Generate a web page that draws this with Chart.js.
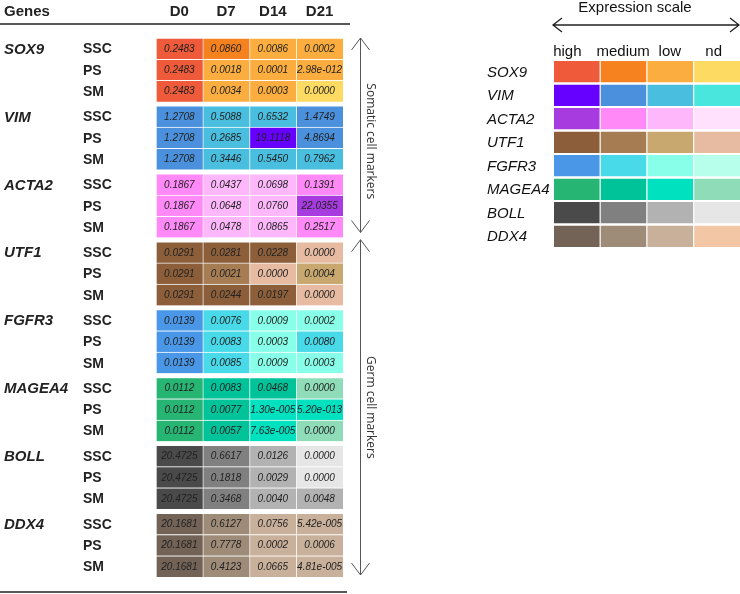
<!DOCTYPE html>
<html>
<head>
<meta charset="utf-8">
<script src="https://cdn.jsdelivr.net/npm/chart.js@4.4.1/dist/chart.umd.min.js"></script>
<style>
  body { margin: 0; background: #fff; }
  #wrap { position: relative; width: 740px; height: 594px; overflow: hidden; }
  #wrap canvas { position: absolute; left: 0; top: 0; }
</style>
</head>
<body>
<div id="wrap">
  <canvas id="tableChart" width="740" height="594"></canvas>
  <canvas id="scaleChart" width="740" height="594"></canvas>
</div>
<script>
// table labels
const genes = ['SOX9', 'VIM', 'ACTA2', 'UTF1', 'FGFR3', 'MAGEA4', 'BOLL', 'DDX4'];
const samples = ['SSC', 'PS', 'SM'];
const days = ['D0', 'D7', 'D14', 'D21'];
const scaleLabels = ['high', 'medium', 'low', 'nd'];

// values shown in the cells, one entry per gene x sample (SSC, PS, SM)
const valuesD0 = ['0.2483', '0.2483', '0.2483', '1.2708', '1.2708', '1.2708', '0.1867', '0.1867', '0.1867',
  '0.0291', '0.0291', '0.0291', '0.0139', '0.0139', '0.0139', '0.0112', '0.0112', '0.0112',
  '20.4725', '20.4725', '20.4725', '20.1681', '20.1681', '20.1681'];
const valuesD7 = ['0.0860', '0.0018', '0.0034', '0.5088', '0.2685', '0.3446', '0.0437', '0.0648', '0.0478',
  '0.0281', '0.0021', '0.0244', '0.0076', '0.0083', '0.0085', '0.0083', '0.0077', '0.0057',
  '0.6617', '0.1818', '0.3468', '0.6127', '0.7778', '0.4123'];
const valuesD14 = ['0.0086', '0.0001', '0.0003', '0.6532', '19.1118', '0.5450', '0.0698', '0.0760', '0.0865',
  '0.0228', '0.0000', '0.0197', '0.0009', '0.0003', '0.0009', '0.0468', '1.30e-005', '7.63e-005',
  '0.0126', '0.0029', '0.0040', '0.0756', '0.0002', '0.0665'];
const valuesD21 = ['0.0002', '2.98e-012', '0.0000', '1.4749', '4.8694', '0.7962', '0.1391', '22.0355', '0.2517',
  '0.0000', '0.0004', '0.0000', '0.0002', '0.0080', '0.0003', '0.0000', '5.20e-013', '0.0000',
  '0.0000', '0.0000', '0.0048', '5.42e-005', '0.0006', '4.81e-005'];

// expression level of each cell: 0 high, 1 medium, 2 low, 3 nd
const levelsD0 = [0, 0, 0, 1, 1, 1, 1, 1, 1, 0, 0, 0, 0, 0, 0, 0, 0, 0, 0, 0, 0, 0, 0, 0];
const levelsD7 = [1, 2, 2, 2, 2, 2, 2, 2, 2, 0, 1, 0, 1, 1, 1, 1, 1, 1, 1, 1, 1, 1, 1, 1];
const levelsD14 = [2, 2, 2, 2, 0, 2, 2, 2, 2, 0, 3, 0, 2, 2, 2, 1, 2, 2, 2, 2, 2, 2, 2, 2];
const levelsD21 = [2, 2, 3, 1, 1, 2, 1, 0, 1, 3, 2, 3, 2, 1, 2, 3, 2, 3, 3, 3, 2, 2, 2, 2];

// colour per gene: high, medium, low, nd
const palettes = [
  ['#EE5A3A', '#F5821E', '#FBAE3F', '#FDDB63'],
  ['#6600FF', '#4A90DC', '#4ABEDF', '#48E6DC'],
  ['#A73BDF', '#FF89F7', '#FFB7FB', '#FFE1FD'],
  ['#8C5F3A', '#A67C53', '#C8A86E', '#E6BBA1'],
  ['#4A97E8', '#48DAE8', '#88FFE8', '#B7FFEA'],
  ['#26B573', '#00C39A', '#00E1C0', '#8EDDB8'],
  ['#4A4A4A', '#808080', '#B2B2B2', '#E6E6E6'],
  ['#736357', '#9E8B78', '#C8B09A', '#F3C6A6']
];

const values = [valuesD0, valuesD7, valuesD14, valuesD21];
const levels = [levelsD0, levelsD7, levelsD14, levelsD21];

const GAP = 0.2; // space between gene blocks, in rows
const rowPos = i => Math.floor(i / 3) * (3 + GAP) + (i % 3) + 0.5;
const totalRows = genes.length * 3 + (genes.length - 1) * GAP;

const FONT = '"Liberation Sans", Arial, sans-serif';

function vArrow(ctx, x, y1, y2) {
  ctx.beginPath();
  ctx.moveTo(x, y1);
  ctx.lineTo(x, y2);
  ctx.stroke();
  ctx.beginPath();
  ctx.moveTo(x - 9, y1 + 12); ctx.lineTo(x, y1); ctx.lineTo(x + 9, y1 + 12);
  ctx.moveTo(x - 9, y2 - 12); ctx.lineTo(x, y2); ctx.lineTo(x + 9, y2 - 12);
  ctx.stroke();
}

const tableText = {
  id: 'tableText',
  afterDraw(chart) {
    const ctx = chart.ctx;
    const xs = chart.scales.x;
    const ys = chart.scales.y;
    ctx.save();

    // cell values
    ctx.fillStyle = '#222';
    ctx.font = 'italic 10px ' + FONT;
    ctx.textAlign = 'center';
    ctx.textBaseline = 'middle';
    chart.data.datasets.forEach((ds, c) => {
      chart.getDatasetMeta(c).data.forEach((bar, i) => {
        const p = bar.getProps(['x', 'y', 'base'], true);
        ctx.fillText(values[c][i], (p.x + p.base) / 2, p.y + 0.5);
      });
    });

    // header
    ctx.font = 'bold 15px ' + FONT;
    ctx.textAlign = 'left';
    ctx.fillText('Genes', 4, 12);
    ctx.textAlign = 'center';
    days.forEach((d, c) => ctx.fillText(d, xs.getPixelForValue(c + 0.5), 12));

    // gene and sample labels
    genes.forEach((g, gi) => {
      ctx.textAlign = 'left';
      ctx.font = 'bold italic 15px ' + FONT;
      ctx.fillText(g, 4, ys.getPixelForValue(rowPos(gi * 3)) + 1);
      ctx.font = 'bold 14px ' + FONT;
      samples.forEach((s, si) => {
        ctx.fillText(s, 83, ys.getPixelForValue(rowPos(gi * 3 + si)) + 1);
      });
    });

    // rules
    ctx.strokeStyle = '#222';
    ctx.lineWidth = 1.5;
    ctx.beginPath();
    ctx.moveTo(0, 24); ctx.lineTo(350, 24);
    ctx.moveTo(0, 592); ctx.lineTo(347, 592);
    ctx.stroke();

    // marker groups
    ctx.strokeStyle = '#555';
    ctx.lineWidth = 1;
    const ax = 360.5;
    const s1 = ys.getPixelForValue(0);
    const s2 = ys.getPixelForValue(3 * (3 + GAP) - GAP) - 5;
    const g1 = ys.getPixelForValue(3 * (3 + GAP)) - 2;
    const g2 = ys.getPixelForValue(totalRows) - 2;
    vArrow(ctx, ax, s1, s2);
    vArrow(ctx, ax, g1, g2);

    ctx.fillStyle = '#333';
    ctx.font = '12px "Open Sans", sans-serif';
    ctx.textAlign = 'center';
    [['Somatic cell markers', (s1 + s2) / 2 + 6], ['Germ cell markers', (g1 + g2) / 2]].forEach(([t, y]) => {
      ctx.save();
      ctx.translate(370, y);
      ctx.rotate(Math.PI / 2);
      ctx.fillText(t, 0, 0);
      ctx.restore();
    });
    ctx.restore();
  }
};

new Chart(document.getElementById('tableChart'), {
  type: 'bar',
  data: {
    datasets: days.map((d, c) => ({
      label: d,
      data: values[c].map((v, i) => ({ x: [c, c + 1], y: rowPos(i) })),
      backgroundColor: levels[c].map((lv, i) => palettes[Math.floor(i / 3)][lv]),
      borderColor: 'rgba(255,255,255,0.85)',
      borderWidth: { top: 1, left: 1, right: 0, bottom: 0 },
      borderSkipped: false,
      grouped: false,
      barPercentage: 1,
      categoryPercentage: 1
    }))
  },
  options: {
    indexAxis: 'y',
    responsive: false,
    animation: false,
    layout: { padding: { left: 156, right: 397, top: 38, bottom: 17 } },
    scales: {
      x: { type: 'linear', min: 0, max: 4, display: false },
      y: { type: 'linear', min: 0, max: totalRows, reverse: true, offset: false, display: false, ticks: { stepSize: 100 } }
    },
    plugins: { legend: { display: false }, tooltip: { enabled: false } }
  },
  plugins: [tableText]
});

// expression scale key
const scaleText = {
  id: 'scaleText',
  afterDraw(chart) {
    const ctx = chart.ctx;
    const xs = chart.scales.x;
    const ys = chart.scales.y;
    ctx.save();
    ctx.fillStyle = '#111';
    ctx.textBaseline = 'middle';
    ctx.font = '15px ' + FONT;
    ctx.textAlign = 'center';
    ctx.fillText('Expression scale', 635, 8);
    const shift = [-9, 0, 0, -3];
    scaleLabels.forEach((l, i) => ctx.fillText(l, xs.getPixelForValue(i + 0.5) + shift[i], 52));

    ctx.strokeStyle = '#222';
    ctx.lineWidth = 1.3;
    ctx.beginPath();
    ctx.moveTo(553, 25); ctx.lineTo(739, 25);
    ctx.moveTo(562, 18); ctx.lineTo(553, 25); ctx.lineTo(562, 32);
    ctx.moveTo(730, 18); ctx.lineTo(739, 25); ctx.lineTo(730, 32);
    ctx.stroke();

    ctx.font = 'italic 15px ' + FONT;
    ctx.textAlign = 'left';
    genes.forEach((g, gi) => ctx.fillText(g, 487, ys.getPixelForValue(gi + 0.5) + 1));
    ctx.restore();
  }
};

new Chart(document.getElementById('scaleChart'), {
  type: 'bar',
  data: {
    datasets: scaleLabels.map((l, lv) => ({
      label: l,
      data: genes.map((g, gi) => ({ x: [lv, lv + 1], y: gi + 0.5 })),
      backgroundColor: palettes.map(p => p[lv]),
      borderColor: '#fff',
      borderWidth: { top: 0, left: 1, right: 0, bottom: 0 },
      borderSkipped: false,
      grouped: false,
      barPercentage: 0.915,
      categoryPercentage: 1
    }))
  },
  options: {
    indexAxis: 'y',
    responsive: false,
    animation: false,
    layout: { padding: { left: 553, right: 0, top: 60, bottom: 346 } },
    scales: {
      x: { type: 'linear', min: 0, max: 4, display: false },
      y: { type: 'linear', min: 0, max: genes.length, reverse: true, offset: false, display: false, ticks: { stepSize: 100 } }
    },
    plugins: { legend: { display: false }, tooltip: { enabled: false } }
  },
  plugins: [scaleText]
});
</script>
</body>
</html>
